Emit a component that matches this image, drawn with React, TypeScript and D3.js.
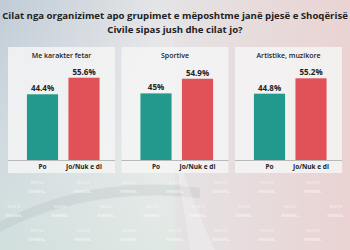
import React from 'react'
import * as d3 from 'd3'

const width = 350
const height = 250

const title = [
  'Cilat nga organizimet apo grupimet e mëposhtme janë pjesë e Shoqërisë',
  'Civile sipas jush dhe cilat jo?',
]
const panelTitles = ['Me karakter fetar', 'Sportive', 'Artistike, muzikore']
const answers = ['Po', 'Jo/Nuk e di']
const poValues = [44.4, 45, 44.8]
const joValues = [55.6, 54.9, 55.2]

const barColors = ['#219a8d', '#e05257']
const panelW = 107
const panelTop = 47
const panelBottom = 173
const baseY = 160

function App() {
  const panelX = d3.scalePoint<string>().domain(panelTitles).range([8, 235])
  const xBand = d3.scaleBand<string>().domain(answers).range([13.75, 96.75])
    .paddingInner(0.25).paddingOuter(0.125)
  const y = d3.scaleLinear().domain([0, 100]).range([baseY, 12])

  // watermark grid, only in the open background below the panels
  const marks: [number, number][] = []
  for (let r = 0; r < 4; r++) {
    for (let c = 0; c < 8; c++) {
      const off = r % 2 === 0 ? 37 : 14
      const mx = c * 46 + off
      const my = 184 + r * 24
      if (mx > 10 && mx < 340 && my < 240) marks.push([mx, my])
    }
  }

  return (
    <svg width={width} height={height} style={{ position: 'fixed', left: 0, top: 0 }}
      fontFamily="'Open Sans', sans-serif">
      <defs>
        <linearGradient id="bgH" x1="0" x2="1" y1="0" y2="0">
          <stop offset="0" stopColor="#c0ccd6" />
          <stop offset="0.45" stopColor="#e4e4e6" />
          <stop offset="1" stopColor="#ead3d2" />
        </linearGradient>
        <linearGradient id="bgV" x1="0" x2="0" y1="0" y2="1">
          <stop offset="0" stopColor="#ffffff" stopOpacity="0" />
          <stop offset="0.6" stopColor="#eef5f0" stopOpacity="0.35" />
          <stop offset="1" stopColor="#dcebe2" stopOpacity="0.6" />
        </linearGradient>
      </defs>
      <rect width={width} height={height} fill="url(#bgH)" />
      <rect width={175} height={height} fill="url(#bgV)" />
      <path d="M0,222 C60,190 130,178 200,188 L200,198 C130,190 60,200 0,232 Z" fill="#9aa6a8" opacity={0.18} />
      <path d="M175,150 C190,190 200,220 215,250 L190,250 C185,210 178,180 175,150 Z" fill="#ffffff" opacity={0.25} />

      {marks.map(([mx, my], i) => (
        <g key={i} fill="#ffffff" opacity={0.55} fontSize={6} textAnchor="middle">
          <text x={mx} y={my}>euro</text>
          <text x={mx} y={my + 8.5} fontWeight={700}>news.</text>
        </g>
      ))}

      <g fontWeight={700} fontSize={9.6} fill="#222" textAnchor="middle">
        {title.map((t, i) => (
          <text key={i} x={width / 2} y={19 + i * 14}>{t}</text>
        ))}
      </g>

      {panelTitles.map((p, i) => {
        const px = panelX(p) ?? 0
        const vals = [poValues[i], joValues[i]]
        return (
          <g key={p} transform={`translate(${px},0)`}>
            <rect x={0} y={panelTop} width={panelW} height={panelBottom - panelTop}
              fill="#f4f4f4" opacity={0.85} />
            <text x={panelW / 2} y={58} textAnchor="middle" fontSize={7} fontWeight={600} fill="#222">{p}</text>
            {answers.map((a, j) => (
              <g key={a}>
                <rect x={xBand(a)} y={y(vals[j])} width={xBand.bandwidth()}
                  height={baseY - y(vals[j])} fill={barColors[j]} />
                <text x={(xBand(a) ?? 0) + xBand.bandwidth() / 2} y={y(vals[j]) - 3}
                  textAnchor="middle" fontSize={8} fontWeight={700} fill="#222">{vals[j]}%</text>
                <text x={(xBand(a) ?? 0) + xBand.bandwidth() / 2} y={168.5}
                  textAnchor="middle" fontSize={6.5} fontWeight={700} fill="#222">{a}</text>
              </g>
            ))}
            <line x1={0} x2={panelW} y1={baseY + 0.5} y2={baseY + 0.5} stroke="#a9a9a9" strokeWidth={0.8} />
          </g>
        )
      })}
    </svg>
  )
}

export default App
